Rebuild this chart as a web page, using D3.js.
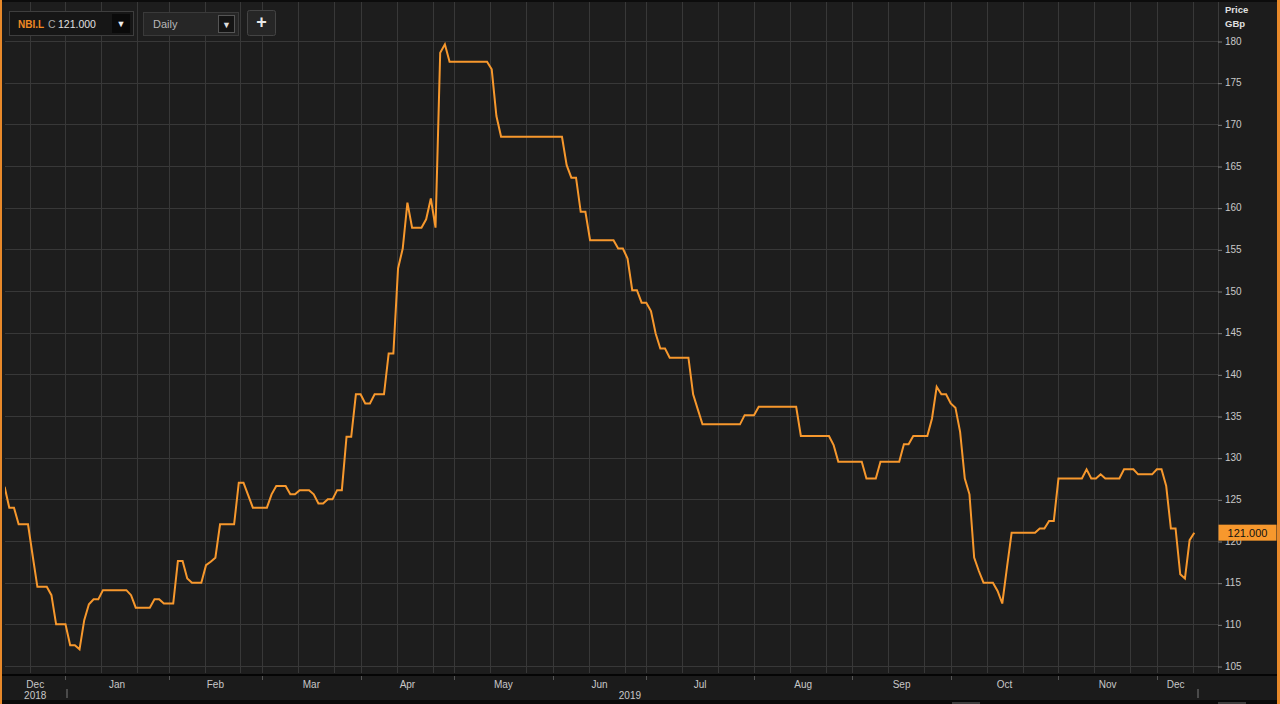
<!DOCTYPE html>
<html><head><meta charset="utf-8">
<script src="https://cdn.jsdelivr.net/npm/d3@7"></script>
<style>html,body{margin:0;padding:0;background:#1c1c1c;overflow:hidden}svg{display:block}</style>
</head><body><svg id="c" width="1280" height="704"></svg>
<script>
// ---------------- data ----------------
const instrument = "NBI.L";
const closeFlag = "C";
const closeValue = "121.000";
const lastValueLabel = "121.000";
const intervalLabel = "Daily";
const axisTitle = ["Price", "GBp"];
const startDate = "2018-12-11";
const holidays = ["2018-12-25","2018-12-26","2019-01-01","2019-04-19","2019-04-22","2019-05-06","2019-05-27","2019-08-26"];
const monthNames = ["Jan","Feb","Mar","Apr","May","Jun","Jul","Aug","Sep","Oct","Nov","Dec"];
const priceTicks = [105,110,115,120,125,130,135,140,145,150,155,160,165,170,175,180];
const prices = [
126.5,124.0,124.0,122.0,122.0,122.0,118.2,114.5,114.5,114.5,113.5,110.0,110.0,110.0,107.5,107.5,107.0,110.5,112.4,113.0,
113.0,114.1,114.1,114.1,114.1,114.1,114.1,113.5,112.0,112.0,112.0,112.0,113.0,113.0,112.5,112.5,112.5,117.6,117.6,115.5,
115.0,115.0,115.0,117.1,117.5,118.0,122.0,122.0,122.0,122.0,127.0,127.0,125.5,124.0,124.0,124.0,124.0,125.6,126.6,126.6,
126.6,125.6,125.6,126.1,126.1,126.1,125.6,124.5,124.5,125.0,125.0,126.1,126.1,132.5,132.5,137.6,137.6,136.5,136.5,137.6,
137.6,137.6,142.5,142.5,152.7,155.1,160.6,157.6,157.6,157.6,158.6,161.1,157.6,178.6,179.6,
177.5,177.5,177.5,177.5,177.5,177.5,177.5,177.5,177.5,176.6,171.0,
168.5,168.5,168.5,168.5,168.5,168.5,168.5,168.5,168.5,168.5,168.5,168.5,168.5,168.5,
165.1,163.6,163.6,159.5,159.5,156.1,156.1,156.1,156.1,156.1,156.1,
155.1,155.1,153.9,150.1,150.1,148.6,148.6,147.6,144.9,143.1,143.1,
142.0,142.0,142.0,142.0,142.0,137.6,135.8,
134.0,134.0,134.0,134.0,134.0,134.0,134.0,134.0,134.0,135.1,135.1,135.1,
136.1,136.1,136.1,136.1,136.1,136.1,136.1,136.1,136.1,
132.6,132.6,132.6,132.6,132.6,132.6,132.6,131.5,129.5,129.5,129.5,129.5,129.5,129.5,
127.5,127.5,127.5,129.5,129.5,129.5,129.5,129.5,131.6,131.6,132.6,132.6,132.6,132.6,
134.7,138.5,137.6,137.6,136.5,136.0,133.1,127.5,125.6,118.0,116.4,115.0,115.0,115.0,114.0,112.5,116.8,
121.0,121.0,121.0,121.0,121.0,121.0,121.5,121.5,122.4,122.4,
127.5,127.5,127.5,127.5,127.5,127.5,128.6,127.5,127.5,128.0,127.5,127.5,127.5,127.5,
128.6,128.6,128.6,128.0,128.0,128.0,128.0,128.6,128.6,126.6,121.5,121.5,116.0,115.5,120.1,121.0
];

// ---------------- trading calendar ----------------
const parse = d3.utcParse("%Y-%m-%d"), fmtD = d3.utcFormat("%Y-%m-%d");
const hol = new Set(holidays);
const dates = [];
for (let d = parse(startDate); dates.length < prices.length; d = d3.utcDay.offset(d, 1)) {
  const wd = d.getUTCDay();
  if (wd !== 0 && wd !== 6 && !hol.has(fmtD(d))) dates.push(d);
}

// ---------------- layout ----------------
const W = 1280, H = 704;
const plot = {left: 5, right: 1218, top: 0, bottom: 673};
const FONT = "'Liberation Sans', Arial, sans-serif";
const svg = d3.select("#c");

const x = d3.scaleLinear().domain([0, prices.length - 1]).range([4.6, 1194.3]);
const y = d3.scaleLinear().domain([105, 180]).range([666, 41]);

// backgrounds
svg.append("rect").attr("x", 0).attr("y", 0).attr("width", W).attr("height", H).attr("fill", "#1c1c1c");
svg.append("rect").attr("x", plot.left).attr("y", plot.top).attr("width", plot.right - plot.left)
  .attr("height", plot.bottom - plot.top).attr("fill", "#1d1d1d");

// month starts
const monthStarts = [];
for (let i = 1; i < dates.length; i++) if (dates[i].getUTCMonth() !== dates[i - 1].getUTCMonth()) monthStarts.push(i);

// vertical grid
const gridStep = 7.68;
const gridIdx = [];
const idxLeft = x.invert(plot.left), idxRight = x.invert(plot.right);
for (let g = monthStarts[0] - gridStep; g > idxLeft; g -= gridStep) gridIdx.push(g);
monthStarts.forEach((m, k) => {
  const n = k + 1 < monthStarts.length ? monthStarts[k + 1] : idxRight;
  for (let g = m; g < n - 1.5; g += gridStep) gridIdx.push(g);
});
const grid = svg.append("g").attr("stroke", "#383838").attr("stroke-width", 1);
grid.selectAll("line.v").data(gridIdx).join("line").attr("class", "v")
  .attr("x1", d => Math.round(x(d)) + 0.5).attr("x2", d => Math.round(x(d)) + 0.5)
  .attr("y1", plot.top).attr("y2", plot.bottom);
grid.selectAll("line.h").data(priceTicks).join("line").attr("class", "h")
  .attr("x1", plot.left).attr("x2", plot.right)
  .attr("y1", d => Math.round(y(d)) + 0.5).attr("y2", d => Math.round(y(d)) + 0.5);

// price line
svg.append("clipPath").attr("id", "clip").append("rect")
  .attr("x", plot.left).attr("y", plot.top).attr("width", plot.right - plot.left).attr("height", plot.bottom - plot.top);
svg.append("path").datum(prices).attr("clip-path", "url(#clip)")
  .attr("fill", "none").attr("stroke", "#f7982d").attr("stroke-width", 2).attr("stroke-linejoin", "miter")
  .attr("d", d3.line().x((d, i) => x(i)).y(d => y(d)));

// right axis
const ax = svg.append("g").attr("transform", `translate(${plot.right},0)`)
  .call(d3.axisRight(y).tickValues(priceTicks).tickSize(4).tickPadding(3).tickFormat(d3.format("d")));
ax.select(".domain").attr("stroke", "#3a3a3a").attr("d", `M0.5,${plot.top}V${plot.bottom}`);
ax.selectAll(".tick line").attr("stroke", "#777").attr("transform", "translate(0,0.5)");
ax.selectAll(".tick text").attr("fill", "#c8c8c8").attr("font-family", FONT).attr("font-size", 10);
svg.selectAll("text.ttl").data(axisTitle).join("text").attr("class", "ttl")
  .attr("x", 1225).attr("y", (d, i) => 13 + i * 14).attr("fill", "#e0e0e0")
  .attr("font-family", FONT).attr("font-size", 9.5).attr("font-weight", "bold").text(d => d);

// last value label (covers the tick label beneath it, as in the original)
const yl = y(prices[prices.length - 1]);
svg.append("rect").attr("x", plot.right + 0.5).attr("y", yl - 8).attr("width", 58).attr("height", 16).attr("fill", "#f7982d");
svg.append("text").attr("x", plot.right + 29.5).attr("y", yl + 4).attr("text-anchor", "middle")
  .attr("font-family", FONT).attr("font-size", 11).attr("fill", "#111").text(lastValueLabel);

// bottom axis
const axTop = plot.bottom + 1;
svg.append("rect").attr("x", 0).attr("y", axTop).attr("width", W).attr("height", 2).attr("fill", "#050505");
svg.append("rect").attr("x", 0).attr("y", axTop + 2).attr("width", W).attr("height", 24).attr("fill", "#1b1b1b");
svg.append("rect").attr("x", 0).attr("y", 700).attr("width", W).attr("height", 4).attr("fill", "#0a0a0a");
svg.selectAll("line.mt").data(monthStarts).join("line").attr("class", "mt")
  .attr("x1", d => Math.round(x(d)) + 0.5).attr("x2", d => Math.round(x(d)) + 0.5)
  .attr("y1", axTop + 2).attr("y2", axTop + 6).attr("stroke", "#555");
const segStarts = [0, ...monthStarts];
const segs = segStarts.map((s, k) => {
  const e = k + 1 < segStarts.length ? segStarts[k + 1] : prices.length - 1;
  const x0 = k === 0 ? plot.left : x(s);
  return {mid: (x0 + x(e)) / 2, date: dates[s]};
});
svg.selectAll("text.mon").data(segs).join("text").attr("class", "mon")
  .attr("x", d => d.mid).attr("y", 688).attr("text-anchor", "middle")
  .attr("fill", "#c8c8c8").attr("font-family", FONT).attr("font-size", 10)
  .text(d => monthNames[d.date.getUTCMonth()]);
// years
const yearStarts = [0];
for (let i = 1; i < dates.length; i++) if (dates[i].getUTCFullYear() !== dates[i - 1].getUTCFullYear()) yearStarts.push(i);
const years = yearStarts.map((s, k) => {
  const e = k + 1 < yearStarts.length ? yearStarts[k + 1] : prices.length - 1;
  const x0 = k === 0 ? plot.left : x(s);
  return {mid: (x0 + x(e)) / 2, year: dates[s].getUTCFullYear()};
});
svg.selectAll("text.yr").data(years).join("text").attr("class", "yr")
  .attr("x", d => d.mid).attr("y", 699).attr("text-anchor", "middle")
  .attr("fill", "#c8c8c8").attr("font-family", FONT).attr("font-size", 10).text(d => d.year);
const sepX = [x(yearStarts[1]) + 2, x(prices.length - 1) + 4];
svg.selectAll("rect.sep").data(sepX).join("rect").attr("class", "sep")
  .attr("x", d => Math.round(d) - 1).attr("y", 689).attr("width", 2).attr("height", 9).attr("fill", "#4a4a4a");
// scrollbar hints
svg.selectAll("rect.sb").data([952, 1218]).join("rect").attr("class", "sb")
  .attr("x", d => d).attr("y", 702).attr("width", 28).attr("height", 2).attr("fill", "#3c3c3c");

// frame borders
svg.append("rect").attr("x", 0).attr("y", 0).attr("width", 2).attr("height", H).attr("fill", "#e8892a");
svg.append("rect").attr("x", 1277).attr("y", 0).attr("width", 3).attr("height", H).attr("fill", "#e8892a");
svg.append("line").attr("x1", 2).attr("x2", 1277).attr("y1", 1).attr("y2", 1).attr("stroke", "#0c0c0c").attr("stroke-width", 2);

// top controls
const ctl = svg.append("g").attr("font-family", FONT);
ctl.append("rect").attr("x", 9.5).attr("y", 11.5).attr("width", 124).attr("height", 24).attr("fill", "#161616").attr("stroke", "#3e3e3e");
ctl.append("text").attr("x", 18).attr("y", 27.5).attr("font-size", 10).attr("font-weight", "bold").attr("fill", "#f08a24").text(instrument);
ctl.append("text").attr("x", 48).attr("y", 27.5).attr("font-size", 10.5).attr("fill", "#a8a8a8").text(closeFlag);
ctl.append("text").attr("x", 58).attr("y", 27.5).attr("font-size", 10.5).attr("fill", "#e0e0e0").text(closeValue);
ctl.append("rect").attr("x", 112).attr("y", 14).attr("width", 18).attr("height", 19).attr("fill", "#0a0a0a");
ctl.append("text").attr("x", 121).attr("y", 27).attr("text-anchor", "middle").attr("font-size", 9).attr("fill", "#eee").text("▼");
ctl.append("rect").attr("x", 143.5).attr("y", 12.5).attr("width", 95).attr("height", 23).attr("fill", "#262626").attr("stroke", "#3a3a3a");
ctl.append("text").attr("x", 153).attr("y", 27.5).attr("font-size", 11).attr("fill", "#b8b8b8").text(intervalLabel);
ctl.append("rect").attr("x", 218.5).attr("y", 15.5).attr("width", 16).attr("height", 17).attr("fill", "#141414").attr("stroke", "#555");
ctl.append("text").attr("x", 226.5).attr("y", 27.5).attr("text-anchor", "middle").attr("font-size", 9).attr("fill", "#ddd").text("▼");
ctl.append("rect").attr("x", 247.5).attr("y", 10.5).attr("width", 28).attr("height", 25).attr("rx", 2).attr("fill", "#262626").attr("stroke", "#444");
ctl.append("text").attr("x", 261.5).attr("y", 28).attr("text-anchor", "middle").attr("font-size", 18).attr("font-weight", "bold").attr("fill", "#e8e8e8").text("+");
</script>
</body></html>
